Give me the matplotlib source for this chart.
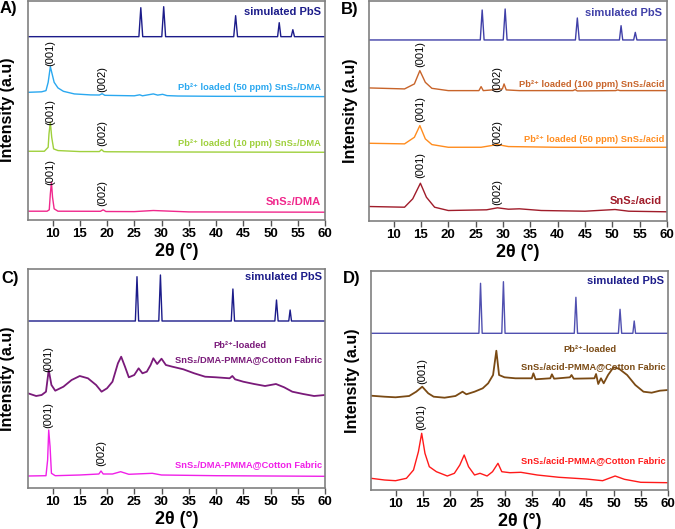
import matplotlib
matplotlib.use("Agg")
import matplotlib.pyplot as plt

plt.rcParams['font.family'] = ['Liberation Sans', 'DejaVu Sans']

# ---------------- DATA (2theta in degrees, intensity in arbitrary stacked units) ----------------
# Panel A
A_pbs_x = [5.5, 25.85, 26.2, 26.55, 30.05, 30.4, 30.75, 43.25, 43.6, 43.95, 51.3, 51.6, 51.9, 53.8, 54.1, 54.4, 60]
A_pbs_y = [183, 183, 212, 183, 183, 213, 183, 183, 204, 183, 183, 197, 183, 183, 190, 183, 183]
A_50_x = [5.5, 8.0, 8.8, 9.2, 9.6, 10.3, 11, 12, 14, 17, 18.6, 19.1, 19.6, 25, 26, 26.5, 28.5, 29.3, 30.2, 31, 33, 40, 50, 60]
A_50_y = [127.3, 127.8, 129, 137.3, 153, 137.3, 131.7, 128.3, 125.7, 124.7, 124.6, 125.9, 124.3, 123.8, 124.8, 123.8, 125.7, 124.5, 125.3, 124, 123.6, 123.3, 123.2, 123]
A_10_x = [5.5, 8.5, 9.2, 9.35, 9.6, 9.85, 10.2, 11, 15, 18.6, 19.0, 19.4, 20, 30, 60]
A_10_y = [68.3, 68.3, 72.3, 85.7, 97.3, 82.3, 70.7, 69, 68, 68, 70, 68, 67.8, 67.6, 67.3]
A_dma_x = [5.5, 9.0, 9.4, 9.6, 9.8, 10.0, 10.3, 11, 18.8, 19.3, 19.8, 25, 28.5, 35, 60]
A_dma_y = [8.3, 8.3, 9.7, 25.7, 37.3, 22.3, 10.7, 8.3, 8.2, 9.7, 8, 7.9, 9, 7.6, 7.3]
A_labels = ['simulated PbS', 'Pb²⁺ loaded (50 ppm) SnS₂/DMA',
            'Pb²⁺ loaded (10 ppm) SnS₂/DMA', 'SnS₂/DMA']
A_label_y = [207.3, 132, 75.7, 17.3]
A_hkl_x = [9.6, 19.1, 9.6, 19.1, 9.6, 19.1]
A_hkl_y = [167, 141, 107.3, 86.7, 47.3, 26.7]
A_hkl = ['(001)', '(002)', '(001)', '(002)', '(001)', '(002)']

# Panel B
B_pbs_x = [5.5, 25.85, 26.2, 26.55, 30.05, 30.4, 30.75, 43.25, 43.6, 43.95, 51.3, 51.6, 51.9, 53.9, 54.2, 54.5, 60]
B_pbs_y = [180.7, 180.7, 210.7, 180.7, 180.7, 211.7, 180.7, 180.7, 202.7, 180.7, 180.7, 195, 180.7, 180.7, 188.3, 180.7, 180.7]
B_100_x = [5.5, 10, 12, 13.8, 14.8, 15.8, 17, 20, 25.6, 26.0, 26.4, 28, 29, 29.9, 30.2, 30.6, 33, 42.8, 43.2, 43.6, 50.6, 51, 51.4, 55, 60]
B_100_y = [132.7, 132, 131.7, 136.7, 150, 138.3, 132.3, 130, 130, 134, 130, 130.7, 131.3, 131.7, 136.7, 130.7, 130, 130, 131, 129.7, 130, 130.7, 130, 130, 130]
B_50_x = [5.5, 12, 13.8, 14.8, 15.8, 17, 20, 26, 29, 31, 40, 60]
B_50_y = [77.3, 76.7, 83.3, 95, 81.7, 76, 73.3, 73.3, 76, 74, 73.3, 73.3]
B_acid_x = [5.5, 12, 13.5, 14.9, 16, 17.5, 20, 27, 29, 31, 33, 37, 45, 50.5, 53, 60]
B_acid_y = [14, 13.3, 21.7, 37.3, 23.3, 13.3, 10, 10.7, 12.7, 11.3, 11.7, 10, 9.3, 11, 9.3, 8.7]
B_labels = ['simulated PbS', 'Pb²⁺ loaded (100 ppm) SnS₂/acid',
            'Pb²⁺ loaded (50 ppm) SnS₂/acid', 'SnS₂/acid']
B_label_y = [208, 136, 80.7, 20]
B_hkl_x = [14.8, 29, 14.8, 29, 14.9, 29]
B_hkl_y = [166.7, 141.7, 111.7, 87.3, 56, 29]
B_hkl = ['(001)', '(002)', '(001)', '(002)', '(001)', '(002)']

# Panel C
C_pbs_x = [5.5, 25.2, 25.5, 25.8, 29.5, 29.8, 30.1, 42.8, 43.1, 43.4, 50.8, 51.1, 51.4, 53.35, 53.6, 53.85, 60]
C_pbs_y = [167, 167, 211.3, 167, 167, 213, 167, 167, 199, 167, 167, 188, 167, 167, 178, 167, 167]
C_pb_x = [5.5, 7, 8, 8.8, 9.3, 9.8, 10.5, 12, 13.5, 15, 16.5, 18, 19, 20, 21, 22, 22.6, 23.3, 24, 25, 25.8, 26.5, 27.3, 28,
          28.5, 29.2, 30, 30.8, 32, 34, 36, 38, 40, 42.5, 43, 43.5, 45, 47, 49, 51, 52.5, 54, 56, 58, 60]
C_pb_y = [94.7, 92, 93, 96.3, 118, 103, 97.3, 101.3, 108, 112, 109.7, 103, 96.3, 99.7, 106.3, 124.7, 131.3, 121.3, 110.7, 113,
          119.7, 114.7, 116.3, 123, 129.7, 124, 129.3, 123, 121.3, 118.7, 114.7, 111.3, 110.7, 109.7, 112, 108.7, 106.3, 104,
          102, 104, 100.7, 96.3, 94, 92, 93]
C_dma_x = [5.5, 8.8, 9.1, 9.3, 9.55, 9.8, 10.5, 15, 18.5, 18.9, 19.3, 21, 22.5, 24, 28.3, 30, 40, 60]
C_dma_y = [12, 12.3, 28, 58, 41.3, 14.7, 12.3, 13, 14, 17, 14, 14, 16.3, 13.7, 14.7, 13, 12.3, 11.7]
C_hkl_x = [9.3, 9.3, 18.9]
C_hkl_y = [129, 73, 35.3]
C_hkl = ['(001)', '(001)', '(002)']

# Panel D
D_pbs_x = [5.5, 25.3, 25.6, 25.9, 29.5, 29.8, 30.1, 42.8, 43.1, 43.4, 50.9, 51.2, 51.5, 53.55, 53.8, 54.05, 60]
D_pbs_y = [156.7, 156.7, 206.7, 156.7, 156.7, 208.3, 156.7, 156.7, 192.7, 156.7, 156.7, 180.7, 156.7, 156.7, 169, 156.7, 156.7]
D_pb_x = [5.5, 8, 10, 12.5, 13.8, 14.9, 16, 17, 19, 21, 22.3, 23, 24.5, 26, 27, 27.9, 28.5, 29.0, 30, 32, 35, 35.3, 35.7,
          38.4, 38.7, 39.1, 42, 42.3, 42.7, 46.5, 46.8, 47.2, 47.7, 48.2, 49, 50, 51, 52.5, 54, 55.5, 57, 58.5, 60]
D_pb_y = [94.3, 93.3, 92.7, 94, 98.3, 103.3, 96.7, 93.3, 92.3, 94, 98.3, 95.7, 98.3, 101.7, 106.7, 115, 139.3, 115, 112.7,
          111.7, 111.7, 116.7, 110.7, 111.7, 115.7, 111.3, 112.7, 115, 111.3, 111.7, 116, 106, 111.7, 106.7, 115, 122.7,
          121.3, 115, 105, 98.3, 97.3, 99.3, 100]
D_acid_x = [5.5, 8, 10, 12, 13.3, 14.2, 14.8, 15.4, 16.2, 17.5, 19.5, 20.8, 21.8, 22.6, 23.4, 24.5, 25.5, 26.8, 27.8, 28.8,
            29.5, 31, 33, 36, 40, 45, 48, 50.3, 52, 55, 60]
D_acid_y = [11.7, 10, 9.3, 11.7, 20, 38.3, 56.7, 36.7, 23.3, 18.3, 14, 16.7, 25, 35, 23.3, 15, 16.7, 14, 18.3, 26.7, 18.3,
            17.3, 17.7, 15, 12.7, 11, 9.3, 14, 10.7, 7.7, 7.3]
D_hkl_x = [14.9, 14.8]
D_hkl_y = [119, 72.7]
D_hkl = ['(001)', '(001)']

# ---------------- FIGURE ----------------
fig = plt.figure(figsize=(6.75, 5.29), dpi=100)
W, H = 675.0, 529.0

def make_ax(l, t, r, b):
    return fig.add_axes([l / W, 1 - b / H, (r - l) / W, (b - t) / H])

axA = make_ax(28, 0.7, 325, 219.5)
axB = make_ax(369, 0.7, 667, 220.5)
axC = make_ax(28, 269, 325, 488)
axD = make_ax(371, 271, 668, 490)

LW = 1.0
SP = '#808080'
BIG = 8.0
SMALL = 6.7

def style(ax, ymax, ylabelpad):
    ax.set_xlim(5.5, 60)
    ax.set_ylim(0, ymax)
    ax.set_yticks([])
    ax.set_xticks([10, 15, 20, 25, 30, 35, 40, 45, 50, 55, 60])
    ax.tick_params(axis='x', direction='out', length=4, width=1, color='#555555',
                   labelsize=9.5, pad=2)
    for lab_ in ax.get_xticklabels():
        lab_.set_fontweight('bold')
    for s in ax.spines.values():
        s.set_color(SP)
        s.set_linewidth(1.2)
    ax.set_xlabel('2θ (°)', fontsize=13, fontweight='bold', labelpad=2)
    ax.set_ylabel('Intensity (a.u)', fontsize=11.5, fontweight='bold', labelpad=ylabelpad)

def hkl(ax, xs, ys, labs):
    for x, y, t in zip(xs, ys, labs):
        ax.text(x, y, t, rotation=90, ha='center', va='center', fontsize=8, color='black')

def lab(ax, x, y, t, c, ha='right', size=BIG):
    ax.text(x, y, t, ha=ha, va='center', fontsize=size, fontweight='bold', color=c)

# Panel A
cA = ['#1c1c8a', '#2aa8f0', '#9fd03c', '#f0288c']
axA.plot(A_pbs_x, A_pbs_y, color=cA[0], lw=LW)
axA.plot(A_50_x, A_50_y, color=cA[1], lw=LW)
axA.plot(A_10_x, A_10_y, color=cA[2], lw=LW)
axA.plot(A_dma_x, A_dma_y, color=cA[3], lw=LW)
for t, y, c, s in zip(A_labels, A_label_y, cA, [BIG, SMALL, SMALL, BIG]):
    lab(axA, 59.3, y, t, c, size=s)
hkl(axA, A_hkl_x, A_hkl_y, A_hkl)
style(axA, 219, 9)

# Panel B
cB = ['#4040a8', '#c8642a', '#ff8c1e', '#a01c2a']
axB.plot(B_pbs_x, B_pbs_y, color=cB[0], lw=LW)
axB.plot(B_100_x, B_100_y, color=cB[1], lw=LW)
axB.plot(B_50_x, B_50_y, color=cB[2], lw=LW)
axB.plot(B_acid_x, B_acid_y, color=cB[3], lw=LW)
for t, y, c, x, s in zip(B_labels, B_label_y, cB, [59.0, 59.6, 59.6, 59.0], [BIG, SMALL, SMALL, BIG]):
    lab(axB, x, y, t, c, size=s)
hkl(axB, B_hkl_x, B_hkl_y, B_hkl)
style(axB, 220, 8)

# Panel C
cC = ['#1c1c8a', '#7a1a7a', '#f020e8']
axC.plot(C_pbs_x, C_pbs_y, color=cC[0], lw=LW)
axC.plot(C_pb_x, C_pb_y, color=cC[1], lw=1.3)
axC.plot(C_dma_x, C_dma_y, color=cC[2], lw=LW)
lab(axC, 59.5, 210.7, 'simulated PbS', cC[0])
lab(axC, 44.4, 143, 'Pb²⁺-loaded', cC[1], ha='center', size=SMALL)
lab(axC, 59.4, 128.7, 'SnS₂/DMA-PMMA@Cotton Fabric', cC[1], size=SMALL)
lab(axC, 59.4, 23.7, 'SnS₂/DMA-PMMA@Cotton Fabric', cC[2], size=SMALL)
hkl(axC, C_hkl_x, C_hkl_y, C_hkl)
style(axC, 219, 9)

# Panel D
cD = ['#5050b0', '#7a4a14', '#ff1a1a']
axD.plot(D_pbs_x, D_pbs_y, color=cD[0], lw=LW)
axD.plot(D_pb_x, D_pb_y, color=cD[1], lw=1.3)
axD.plot(D_acid_x, D_acid_y, color=cD[2], lw=LW)
lab(axD, 59.3, 209.3, 'simulated PbS', '#1c1c8a')
lab(axD, 45.7, 140, 'Pb²⁺-loaded', cD[1], ha='center', size=SMALL)
lab(axD, 59.6, 123.3, 'SnS₂/acid-PMMA@Cotton Fabric', cD[1], size=SMALL)
lab(axD, 59.6, 29, 'SnS₂/acid-PMMA@Cotton Fabric', cD[2], size=SMALL)
hkl(axD, D_hkl_x, D_hkl_y, D_hkl)
style(axD, 219, 8)

# Panel letters
for t, x, y in [('A)', 0, 9), ('B)', 341, 9.5), ('C)', 1, 279), ('D)', 343, 278)]:
    fig.text(x / W, 1 - y / H, t, ha='left', va='center', fontsize=12, fontweight='bold')

fig.savefig('out.png', dpi=100)
